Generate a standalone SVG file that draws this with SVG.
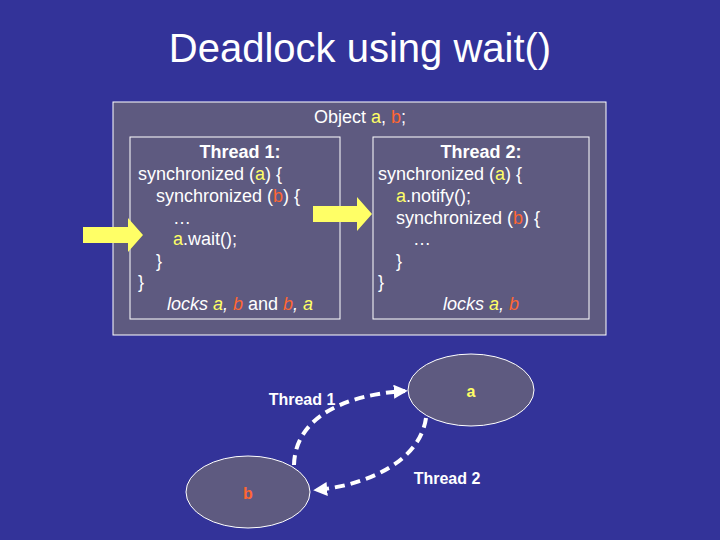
<svg xmlns="http://www.w3.org/2000/svg" width="720" height="540" viewBox="0 0 720 540">
<style>
text{font-family:"Liberation Sans",Arial,sans-serif;fill:#fff}
.c{font-size:18px}
.y{fill:#ffff66}.o{fill:#ff6633}
.box{fill:#5e5a80;stroke:#fff;stroke-width:1}
.b{font-weight:bold}
.con{fill:none;stroke:#fff;stroke-width:4;stroke-dasharray:10,6}
.arr{fill:#ffff66}
</style>
<defs><marker id="ah" viewBox="0 0 10 10" refX="8" refY="5" markerWidth="3.5" markerHeight="3.5" orient="auto"><path d="M0,0L10,5L0,10z" fill="#fff"/></marker></defs>
<rect width="720" height="540" fill="#333399"/>
<text x="360" y="62" font-size="40" text-anchor="middle">Deadlock using wait()</text>
<g id="object"><rect class="box" x="113" y="102" width="493" height="233"/>
<text class="c" x="360" y="123" text-anchor="middle">Object <tspan class="y">a</tspan>, <tspan class="o">b</tspan>;</text></g>
<g id="thread1box"><rect class="box" x="130" y="137" width="210" height="182"/>
<text class="c b" x="240" y="158" text-anchor="middle">Thread 1:</text>
<text class="c" x="138" y="180">synchronized (<tspan class="y">a</tspan>) {</text>
<text class="c" x="156" y="202">synchronized (<tspan class="o">b</tspan>) {</text>
<text class="c" x="173" y="224">…</text>
<text class="c" x="173" y="245"><tspan class="y">a</tspan>.wait();</text>
<text class="c" x="156" y="267">}</text>
<text class="c" x="138" y="288">}</text>
<text class="c" x="240" y="310" text-anchor="middle" font-style="italic">locks <tspan class="y">a</tspan>, <tspan class="o">b</tspan> <tspan font-style="normal">and</tspan> <tspan class="o">b</tspan>, <tspan class="y">a</tspan></text></g>
<g id="thread2box"><rect class="box" x="373" y="137" width="216" height="182"/>
<text class="c b" x="481" y="158" text-anchor="middle">Thread 2:</text>
<text class="c" x="378" y="180">synchronized (<tspan class="y">a</tspan>) {</text>
<text class="c" x="396" y="202"><tspan class="y">a</tspan>.notify();</text>
<text class="c" x="396" y="224">synchronized (<tspan class="o">b</tspan>) {</text>
<text class="c" x="413" y="245">…</text>
<text class="c" x="396" y="267">}</text>
<text class="c" x="378" y="288">}</text>
<text class="c" x="481" y="310" text-anchor="middle" font-style="italic">locks <tspan class="y">a</tspan>, <tspan class="o">b</tspan></text></g>
<g id="arrows">
<path class="arr" d="M83,227H128V218L143,235L128,252V243H83z"/>
<path class="arr" d="M313,206H357V197L372,214L357,231V222H313z"/>
</g>
<g id="nodeA"><ellipse cx="471" cy="390" rx="63" ry="36" fill="#5e5a80" stroke="#fff"/>
<text x="471" y="397" font-size="16" class="b y" text-anchor="middle">a</text></g>
<g id="nodeB"><ellipse cx="248" cy="492" rx="62" ry="36" fill="#5e5a80" stroke="#fff"/>
<text x="248" y="499" font-size="16" class="b o" text-anchor="middle">b</text></g>
<g id="connectors">
<path class="con" d="M294,465C295,420 340,395 405,391" marker-end="url(#ah)"/>
<path class="con" d="M426,418C420,460 370,485 316,490" marker-end="url(#ah)"/>
<text x="302" y="405" font-size="16" class="b" text-anchor="middle">Thread 1</text>
<text x="447" y="484" font-size="16" class="b" text-anchor="middle">Thread 2</text>
</g>
</svg>
